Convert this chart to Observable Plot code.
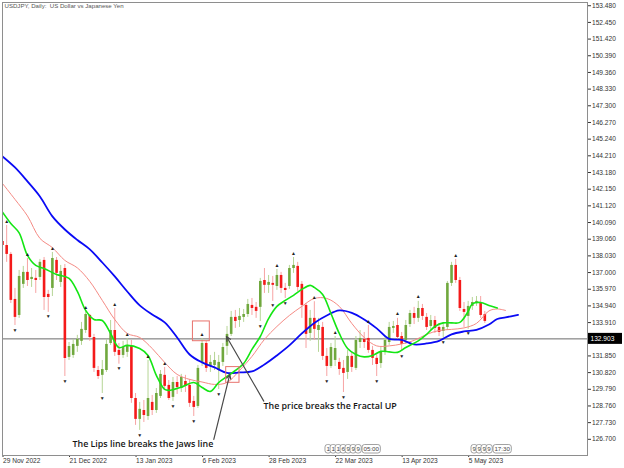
<!DOCTYPE html>
<html><head><meta charset="utf-8">
<script src="https://cdn.jsdelivr.net/npm/d3@7"></script>
<script src="https://cdn.jsdelivr.net/npm/@observablehq/plot@0.6"></script>
<style>
html,body{margin:0;padding:0;background:#fff;}
#chart svg{display:block;}
</style></head><body><div id="chart"></div>
<script>
const title = "USDJPY, Daily:\u00a0 US Dollar vs Japanese Yen";

const opens = [138.92,138.67,138.12,135.34,134.35,136.27,137.01,136.57,136.64,136.70,
137.75,135.65,136.02,137.75,136.39,137.25,131.76,131.88,132.44,132.75,
133.42,134.35,132.99,130.95,130.65,130.95,132.62,133.42,132.19,131.88,
132.07,132.44,129.22,127.93,128.48,128.11,128.98,128.48,129.35,130.65,
130.03,129.29,130.21,129.84,130.27,130.03,129.04,128.73,131.45,132.62,
131.20,131.26,130.95,131.45,132.44,133.18,134.23,134.04,134.23,134.41,
134.97,134.85,134.85,136.51,136.21,136.33,136.14,136.82,136.02,136.14,
137.25,137.38,136.27,134.97,133.24,134.17,133.42,133.61,131.82,131.20,
131.57,131.45,131.08,130.83,131.82,131.08,132.68,132.87,132.93,132.19,
131.70,131.38,132.07,132.68,133.55,133.73,133.05,132.81,133.79,134.47,
134.17,134.78,134.23,133.67,134.04,133.61,133.36,133.61,136.33,137.44,
136.51,134.72,134.29,134.91,135.09,135.15,134.41];
const highs = [139.23,139.91,138.24,136.02,137.13,137.38,137.87,137.25,137.13,137.81,
137.93,135.90,138.24,137.93,137.44,137.50,132.68,132.87,133.12,133.92,
134.60,134.41,133.18,131.20,131.57,132.87,134.04,134.78,132.62,132.75,
132.93,132.81,129.53,128.98,129.10,131.57,129.41,129.84,130.95,131.14,
130.33,130.52,130.58,130.71,130.65,130.40,129.35,131.26,132.93,132.75,
131.88,132.07,131.88,132.62,133.67,134.60,134.66,134.78,134.72,135.34,
135.40,135.15,136.64,137.25,136.82,136.76,137.19,137.01,136.33,137.44,
137.93,137.63,136.45,135.10,134.66,135.20,134.17,133.92,132.31,132.62,
133.05,131.70,131.57,132.19,132.07,133.05,133.42,133.30,133.73,132.44,
132.01,132.37,133.05,133.92,133.98,134.17,133.30,134.04,134.66,134.85,
135.22,135.03,134.47,134.35,134.29,133.86,133.92,136.45,137.63,137.81,
136.70,135.15,135.22,135.46,135.52,135.52,134.60];
const lows = [138.49,137.63,135.09,133.73,134.17,136.02,136.14,136.08,135.71,136.51,
134.66,134.54,135.52,136.51,136.08,130.58,131.57,131.70,132.07,132.50,
133.24,132.75,130.83,130.40,129.53,130.83,132.50,131.82,131.34,131.70,
131.76,128.92,127.56,127.25,127.74,127.87,128.17,128.30,129.22,129.72,
129.10,129.04,129.47,129.59,129.59,128.67,128.11,128.61,131.20,130.83,
130.83,130.95,129.78,131.20,131.88,133.05,133.55,133.61,133.92,134.23,
134.35,134.17,133.98,135.71,135.71,135.22,135.90,135.71,135.40,135.96,
136.95,135.83,134.17,132.31,132.75,132.81,132.07,131.57,130.58,131.08,
131.20,130.65,129.59,130.40,130.83,130.95,132.31,132.31,132.01,131.26,
130.58,131.08,131.88,132.50,133.24,132.81,132.13,132.56,133.61,133.79,
133.92,134.04,133.42,133.42,133.24,133.05,132.95,133.42,136.14,136.33,
134.60,133.61,133.49,134.66,134.91,134.17,133.86];
const closes = [138.67,138.12,135.28,134.23,136.76,137.01,136.51,136.70,136.51,137.63,
135.46,135.46,137.87,136.95,137.07,131.69,132.43,132.56,132.87,133.49,
134.41,132.99,131.08,130.58,131.01,132.56,133.42,132.07,131.88,132.37,
132.50,129.22,127.93,128.55,128.17,129.22,128.48,129.53,130.71,129.97,
129.22,130.21,129.90,130.52,129.97,128.92,128.67,131.08,132.62,131.08,
131.45,131.57,131.45,132.37,133.18,134.23,133.98,134.29,134.41,135.03,
134.78,134.60,136.45,136.21,136.39,136.21,136.82,136.02,135.89,137.25,
137.44,136.08,134.97,133.18,134.17,133.49,133.73,131.82,131.20,132.37,
132.31,131.01,130.77,131.82,131.14,132.81,132.93,132.68,132.19,131.70,
131.32,132.07,132.81,133.61,133.67,132.99,132.56,133.73,134.47,134.17,
134.78,134.29,133.61,134.04,133.55,133.30,133.61,136.33,137.44,136.51,
134.78,134.54,134.91,135.15,135.22,134.35,133.98];

// Alligator lines (bar position, price)
const jawBars = [0,3,6,9,12,15,18,21,24,27,30,33,36,39,42,45,48,51,54,57,60,63,66,69,72,75,78,81,84,87,90,93,96,99,102,105,108,111,114,117,119,121,124];
const jawValues = [144.17,143.49,142.63,141.70,140.47,139.66,139.01,138.43,137.62,136.76,135.83,134.97,134.41,133.92,132.99,131.94,131.45,131.14,130.80,130.83,130.89,131.32,131.88,132.50,133.24,133.89,134.35,134.66,134.51,134.10,133.55,132.90,132.84,132.56,132.62,132.78,133.18,133.36,133.46,133.79,134.13,134.23,134.38];
const teethBars = [0,3,6,9,12,15,18,21,24,27,30,33,36,39,42,45,48,51,54,57,60,63,66,69,72,75,78,81,84,87,90,93,96,99,102,105,108,111,114,117,119,121];
const teethValues = [142.50,141.52,140.50,139.11,138.54,137.75,137.29,136.45,135.28,134.10,133.24,132.99,132.31,131.45,130.71,130.40,130.24,130.09,130.21,130.95,131.82,132.87,133.67,134.35,134.91,135.40,135.40,134.91,133.86,132.99,132.47,132.47,132.59,132.81,133.18,133.42,133.49,133.58,133.86,134.63,134.75,134.66];
const lipsBars = [0,2,4,6,8,10,13,16,18,20,22,24,26,28,30,33,35,37,39,40,43,46,48,50,52,54,56,58,60,62,64,66,68,70,72,74,75,77,79,81,83,85,87,89,91,93,95,97,100,102,104,106,108,110,112,113,115,117,119];
const lipsValues = [140.73,140.03,139.45,138.06,137.44,137.25,136.88,136.64,135.83,134.66,134.10,134.04,133.24,132.37,132.50,132.31,131.88,130.65,129.78,129.72,129.92,130.21,129.90,129.66,130.21,130.58,130.95,131.38,132.25,133.05,134.16,134.91,135.28,135.59,135.96,136.21,136.08,135.65,134.47,133.24,132.31,131.94,131.79,131.88,132.13,132.10,132.07,132.37,132.78,133.18,133.67,133.89,133.89,133.92,134.60,135.06,135.15,134.97,134.81];

const fractalUpBars = [1,6,12,20,27,30,35,39,48,66,70,75,80,88,95,100,109];
const fractalDownBars = [3,11,15,24,28,33,41,46,52,62,65,68,78,82,90,96,106,112];

const xTickBars = [0,16,32,48,64,80,96,112];
const xTickLabels = ["29 Nov 2022","21 Dec 2022","13 Jan 2023","6 Feb 2023","28 Feb 2023","22 Mar 2023","13 Apr 2023","5 May 2023"];
const yTicks = [153.48,152.45,151.42,150.39,149.36,148.33,147.30,146.27,145.24,144.21,143.18,142.15,141.12,140.09,139.06,138.03,137.00,135.97,134.94,133.91,131.85,130.82,129.79,128.76,127.73,126.70];
const lastPrice = 132.903;

const noteTexts = ["The price breaks the Fractal UP","The Lips line breaks the Jaws line"];
const noteBars = [62.77,16.83];
const notePrices = [128.73,126.40];
const arrowFromBars = [62.84,50.82];
const arrowFromPrices = [129.06,126.69];
const arrowToBars = [53.87,54.67];
const arrowToPrices = [133.05,130.71];
const boxBars1 = [45.8,53.8];
const boxBars2 = [49.86,57.0];
const boxPrices1 = [133.98,131.16];
const boxPrices2 = [132.76,130.19];

const tagBars = [77.68,78.9,80.1,81.3,82.5,83.7,84.9,86.6,112.8,114.0,115.2,116.4,118.1];
const tagTexts = ["1","1","1","6","9","9","9","05:00","9","9","9","9","17:30"];

// ---- build tables
const candles = opens.map((o,i)=>({bar:i, open:o, high:highs[i], low:lows[i], close:closes[i], up: closes[i] >= o}));
const byBar = new Map(candles.map(d=>[d.bar,d]));
const jaw = jawBars.map((b,i)=>({bar:b, v:jawValues[i]}));
const teeth = teethBars.map((b,i)=>({bar:b, v:teethValues[i]}));
const lips = lipsBars.map((b,i)=>({bar:b, v:lipsValues[i]}));
const fUp = fractalUpBars.map(b=>byBar.get(b));
const fDn = fractalDownBars.map(b=>byBar.get(b));
const notes = noteTexts.map((t,i)=>({t, bar:noteBars[i], p:notePrices[i]}));
const arrows = arrowFromBars.map((b,i)=>({x1:b, y1:arrowFromPrices[i], x2:arrowToBars[i], y2:arrowToPrices[i]}));
const boxes = boxBars1.map((b,i)=>({x1:b, x2:boxBars2[i], y1:boxPrices1[i], y2:boxPrices2[i]}));
const xLabelOf = new Map(xTickBars.map((b,i)=>[b, xTickLabels[i]]));

const W = 624, H = 468, mL = 2, mR = 37, mT = 2, mB = 13;
const font = "'Liberation Sans', Arial, sans-serif";

const chart = Plot.plot({
  width: W, height: H,
  marginLeft: mL, marginRight: mR, marginTop: mT, marginBottom: mB,
  style: {fontFamily: font, fontSize: "6.6px", background: "#fff", color: "#333", overflow: "visible"},
  x: {domain: [0, 140.7]},
  y: {domain: [125.70, 153.68]},
  marks: [
    Plot.ruleY([lastPrice], {stroke: "#6a6a6a", strokeWidth: 1}),
    Plot.ruleX(candles, {x: "bar", y1: "low", y2: "high", stroke: d => d.up ? "#b6d596" : "#f7a3a3", strokeWidth: 1, clip: true}),
    Plot.ruleX(candles, {x: "bar", y1: "open", y2: "close", stroke: d => d.up ? "#70a83e" : "#f41a1a", strokeWidth: 2.6, clip: true}),
    Plot.line(teeth, {x: "bar", y: "v", stroke: "#f58a84", strokeWidth: 1, curve: "catmull-rom", clip: true}),
    Plot.line(jaw, {x: "bar", y: "v", stroke: "#0a0af5", strokeWidth: 1.8, curve: "catmull-rom", clip: true}),
    Plot.line(lips, {x: "bar", y: "v", stroke: "#14e614", strokeWidth: 1.6, curve: "catmull-rom", clip: true}),
    Plot.text(fUp, {x: "bar", y: "high", text: () => "\u25B2", dy: -4.5, fontSize: 5, fill: "#1e1e1e"}),
    Plot.text(fDn, {x: "bar", y: "low", text: () => "\u25BC", dy: 4.5, fontSize: 5, fill: "#1e1e1e"}),
    Plot.rect(boxes, {x1: "x1", x2: "x2", y1: "y1", y2: "y2", fill: "none", stroke: "#e8736d", strokeWidth: 1}),
    Plot.arrow(arrows, {x1: "x1", y1: "y1", x2: "x2", y2: "y2", stroke: "#4a4a4a", strokeWidth: 1.2, headLength: 6, headAngle: 50}),
    Plot.text(notes, {x: "bar", y: "p", text: "t", textAnchor: "start", fontSize: 8.9, fontWeight: 600, fill: "#161616", fontFamily: "'Open Sans', sans-serif"}),
    Plot.text([title], {frameAnchor: "top-left", dx: 2, dy: 1.5, fontSize: 6.1, fill: "#555"}),
    Plot.axisY(yTicks, {anchor: "right", tickSize: 3, tickPadding: 1.5, tickFormat: d => d.toFixed(3), label: null}),
    Plot.axisX(xTickBars, {anchor: "bottom", tickSize: 2, tickPadding: 1, tickFormat: d => xLabelOf.get(d), textAnchor: "start", dx: 0.5, label: null}),
    Plot.frame({stroke: "#8e8e8e"})
  ]
});
document.getElementById("chart").appendChild(chart);

// price label on the right axis
const svg = d3.select(chart);
const ys = chart.scale("y"), xs = chart.scale("x");
const yy = ys.apply(lastPrice);
const gp = svg.append("g").attr("text-anchor", "start");
gp.append("rect").attr("x", W - mR + 1).attr("y", yy - 5.5).attr("width", 34).attr("height", 11).attr("fill", "#000");
gp.append("text").attr("x", W - mR + 3.5).attr("y", yy).attr("dy", "0.35em").attr("fill", "#fff")
  .attr("text-anchor", "start").attr("font-size", 6.6).attr("font-family", font).text(lastPrice.toFixed(3));

// event time tags along the bottom of the chart
const tg = svg.append("g").attr("font-family", font).attr("font-size", 6.2).attr("text-anchor", "start");
const baseY = H - mB;
tagBars.forEach((b, i) => {
  const x = xs.apply(b);
  const g = tg.append("g");
  const r = g.append("rect").attr("x", x).attr("y", baseY - 10.5).attr("height", 8.5).attr("rx", 2.5)
    .attr("fill", "#fff").attr("stroke", "#8a8a8a").attr("stroke-width", 0.8);
  const t = g.append("text").attr("x", x + 1.4).attr("y", baseY - 4).attr("fill", "#444")
    .attr("text-anchor", "start").text(tagTexts[i]);
  const w = t.node().getComputedTextLength();
  r.attr("width", w + 2.8);
});
</script></body></html>
